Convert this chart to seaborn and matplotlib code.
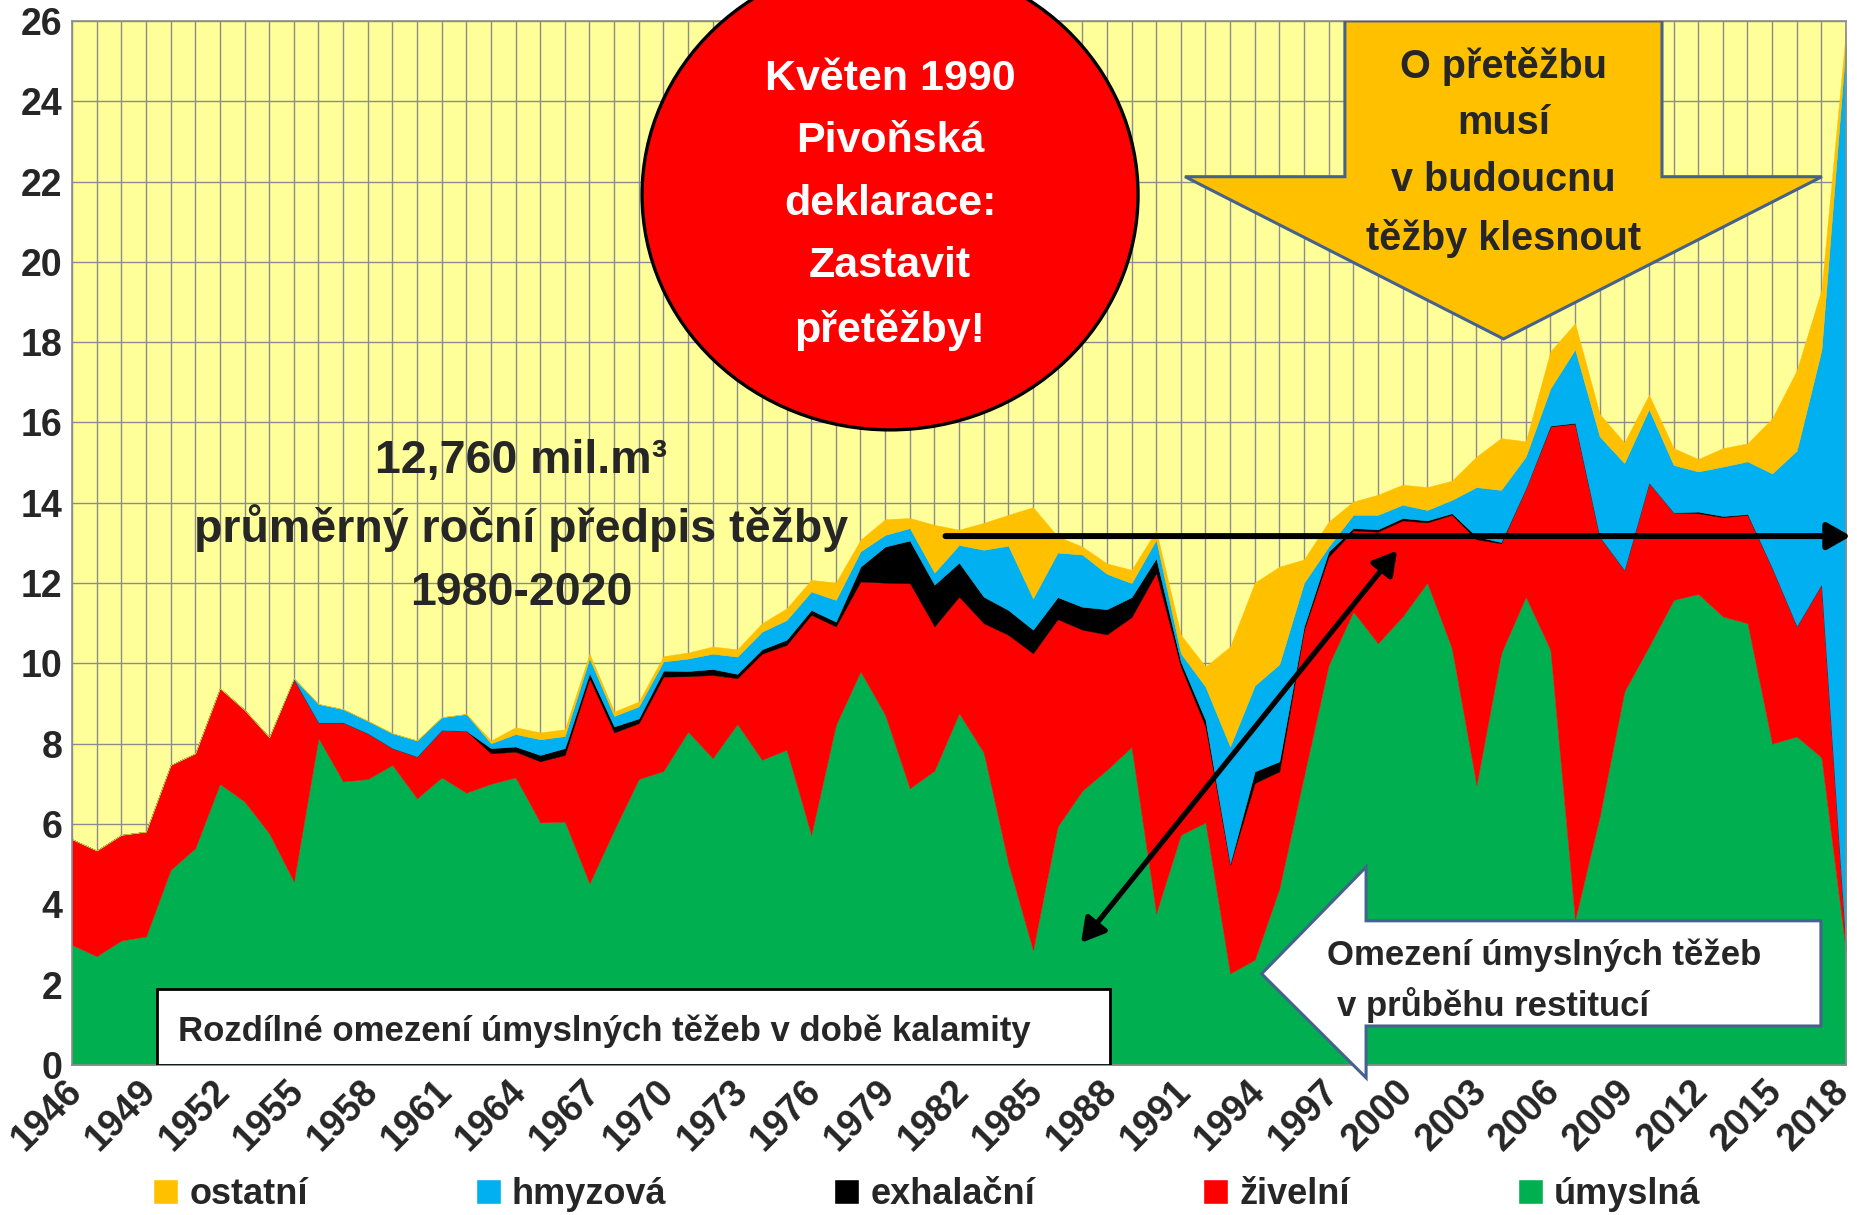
import matplotlib
matplotlib.use('Agg')
import matplotlib.pyplot as plt
import matplotlib.transforms as mtransforms
from matplotlib.patches import Ellipse, Polygon, Rectangle, Patch
import seaborn as sns

# roky 1946-2018, mil. m3
years = list(range(1946, 2019))

umyslna = [2.99, 2.71, 3.10, 3.20, 4.86, 5.40, 7.00, 6.56, 5.77, 4.57,
           8.14, 7.06, 7.12, 7.47, 6.64, 7.16, 6.78, 7.00, 7.16, 6.04,
           6.06, 4.52, 5.85, 7.12, 7.32, 8.30, 7.64, 8.49, 7.60, 7.85,
           5.73, 8.47, 9.80, 8.72, 6.89, 7.33, 8.76, 7.78, 5.02, 2.86,
           5.94, 6.83, 7.35, 7.92, 3.78, 5.73, 6.04, 2.28, 2.62, 4.40,
           7.20, 9.96, 11.29, 10.50, 11.17, 12.01, 10.38, 6.97, 10.25, 11.66,
           10.34, 3.61, 6.19, 9.30, 10.42, 11.58, 11.73, 11.17, 11.00, 8.00,
           8.18, 7.66, 2.80]

zivelni = [2.63, 2.63, 2.63, 2.61, 2.61, 2.36, 2.38, 2.28, 2.39, 5.04,
           0.39, 1.47, 1.14, 0.42, 1.04, 1.18, 1.54, 0.76, 0.64, 1.52,
           1.66, 5.11, 2.43, 1.39, 2.35, 1.38, 2.07, 1.14, 2.64, 2.61,
           5.48, 2.45, 2.24, 3.29, 5.11, 3.59, 2.90, 3.22, 5.69, 7.39,
           5.16, 4.01, 3.37, 3.23, 8.47, 4.19, 2.39, 2.70, 4.40, 2.91,
           3.63, 2.70, 2.02, 2.78, 2.39, 1.50, 3.32, 6.12, 2.74, 2.70,
           5.56, 12.36, 6.97, 3.03, 4.08, 2.18, 2.01, 2.47, 2.70, 4.38,
           2.75, 4.31, 0.10]

exhalacni = [0, 0, 0, 0, 0, 0, 0, 0, 0, 0,
             0, 0, 0, 0, 0, 0, 0, 0.13, 0.13, 0.16,
             0.17, 0.13, 0.15, 0.12, 0.15, 0.13, 0.15, 0.11, 0.11, 0.13,
             0.12, 0.12, 0.37, 0.90, 1.06, 1.04, 0.85, 0.66, 0.62, 0.59,
             0.55, 0.57, 0.63, 0.50, 0.37, 0.12, 0.16, 0.04, 0.29, 0.25,
             0.09, 0.13, 0.06, 0.06, 0.06, 0.05, 0.04, 0.07, 0.03, 0,
             0.02, 0.02, 0, 0, 0, 0, 0.04, 0.03, 0.02, 0,
             0, 0, 0]

hmyzova = [0, 0, 0, 0, 0, 0, 0, 0, 0, 0.02,
           0.46, 0.33, 0.31, 0.37, 0.40, 0.32, 0.42, 0.12, 0.31, 0.39,
           0.30, 0.37, 0.26, 0.30, 0.23, 0.31, 0.38, 0.43, 0.44, 0.49,
           0.46, 0.54, 0.38, 0.29, 0.31, 0.30, 0.44, 1.17, 1.60, 0.78,
           1.11, 1.30, 0.88, 0.35, 0.46, 0.21, 0.83, 2.91, 2.14, 2.42,
           1.09, 0.12, 0.33, 0.36, 0.33, 0.26, 0.33, 1.23, 1.30, 0.79,
           0.93, 1.83, 2.49, 2.66, 1.83, 1.18, 1.00, 1.23, 1.31, 2.35,
           4.37, 5.83, 22.60]

ostatni = [0, 0, 0, 0, 0, 0, 0, 0, 0, 0,
           0, 0, 0, 0, 0, 0, 0, 0.07, 0.17, 0.17,
           0.17, 0.11, 0.11, 0.12, 0.13, 0.15, 0.18, 0.18, 0.21, 0.29,
           0.29, 0.43, 0.29, 0.39, 0.25, 1.19, 0.38, 0.67, 0.77, 2.27,
           0.40, 0.20, 0.26, 0.33, 0.23, 0.46, 0.50, 2.49, 2.56, 2.43,
           0.58, 0.62, 0.33, 0.50, 0.50, 0.57, 0.48, 0.76, 1.29, 0.38,
           0.92, 0.65, 0.56, 0.51, 0.36, 0.42, 0.31, 0.46, 0.45, 1.37,
           2.00, 1.50, 0.30]

labels = ['úmyslná', 'živelní', 'exhalační', 'hmyzová', 'ostatní']
colors = ['#00B050', '#FF0000', '#000000', '#00B0F0', '#FFC000']

sns.set_style('white')
plt.rcParams['font.family'] = ['Liberation Sans', 'DejaVu Sans']
plt.rcParams['font.weight'] = 'bold'

fig = plt.figure(figsize=(18.57, 12.15), dpi=100)
ax = fig.add_axes([0.0388, 0.1235, 0.9553, 0.8593])
ax.set_facecolor('#FFFF99')

ax.stackplot(years, umyslna, zivelni, exhalacni, hmyzova, ostatni,
             colors=colors, labels=labels, edgecolor='face', linewidth=0.3, zorder=2)

ax.set_xlim(1946, 2018)
ax.set_ylim(0, 26)
ax.set_yticks(range(0, 27, 2))
ax.set_xticks(range(1946, 2019, 3))
ax.set_xticks(years, minor=True)
ax.grid(True, which='both', axis='x', color='#8C8C8C', lw=1.0)
ax.grid(True, which='major', axis='y', color='#8C8C8C', lw=1.0)
ax.set_axisbelow(True)
for s in ax.spines.values():
    s.set_color('#8C8C8C')
    s.set_linewidth(1.2)
ax.tick_params(axis='both', which='both', length=0, labelsize=27)
ax.tick_params(axis='y', pad=7)
ax.tick_params(axis='x', pad=6)
shift = mtransforms.ScaledTranslation(-0.08, 0, fig.dpi_scale_trans)
last_shift = mtransforms.ScaledTranslation(-0.07, 0, fig.dpi_scale_trans)
xlabs = ax.get_xticklabels()
for lab in xlabs:
    lab.set_rotation(45)
    lab.set_ha('right')
    lab.set_va('top')
    lab.set_rotation_mode('anchor')
    lab.set_fontweight('bold')
    lab.set_transform(lab.get_transform() + shift)
xlabs[-1].set_transform(xlabs[-1].get_transform() + last_shift)
for lab in ax.get_yticklabels():
    lab.set_fontweight('bold')

# kruh - Pivoňská deklarace
ax.add_patch(Ellipse((1979.2, 21.67), 20.13, 11.71, fc='#FF0000', ec='black',
                     lw=2.4, clip_on=False, zorder=6))
ax.text(1979.2, 21.42, 'Květen 1990\nPivoňská\ndeklarace:\nZastavit\npřetěžby!',
        ha='center', va='center', color='white', fontsize=31, fontweight='bold',
        linespacing=1.72, zorder=7, clip_on=False)

# průměrný předpis
ax.text(1964.24, 13.4, '12,760 mil.m³\nprůměrný roční předpis těžby\n1980-2020',
        ha='center', va='center', fontsize=33.5, fontweight='bold', linespacing=1.55, zorder=7)

# oranžová šipka dolů
ax.add_patch(Polygon([(1997.66, 26), (2010.53, 26), (2010.53, 22.12), (2017.02, 22.12),
                      (2004.1, 18.08), (1991.17, 22.12), (1997.66, 22.12)],
                     closed=True, fc='#FFC000', ec='#44628C', lw=2.2, zorder=6))
ax.text(2004.1, 22.73, 'O přetěžbu\nmusí\nv budoucnu\ntěžby klesnout',
        ha='center', va='center', fontsize=28.5, fontweight='bold', linespacing=1.63, zorder=7)

# bílá šipka doleva
ax.add_patch(Polygon([(1994.28, 2.27), (1998.52, 4.93), (1998.52, 3.59), (2016.98, 3.59),
                      (2016.98, 0.97), (1998.52, 0.97), (1998.52, -0.32)],
                     closed=True, fc='white', ec='#44628C', lw=2.2, zorder=6, clip_on=False))
ax.text(1996.95, 2.49, 'Omezení úmyslných těžeb', ha='left', va='baseline',
        fontsize=25, fontweight='bold', zorder=7)
ax.text(1997.34, 1.23, 'v průběhu restitucí', ha='left', va='baseline',
        fontsize=25, fontweight='bold', zorder=7)

# rámeček dole
ax.add_patch(Rectangle((1949.45, 0), 38.68, 1.89, fc='white', ec='black', lw=2, zorder=6))
ax.text(1950.29, 0.6, 'Rozdílné omezení úmyslných těžeb v době kalamity',
        ha='left', va='baseline', fontsize=25, fontweight='bold', zorder=7)

# šipky
ax.annotate('', xy=(2018.19, 13.17), xytext=(1981.45, 13.17), annotation_clip=False,
            arrowprops=dict(arrowstyle='-|>,head_length=0.7,head_width=0.4', lw=4.3,
                            color='black', shrinkA=0, shrinkB=0, mutation_scale=20),
            zorder=8)
ax.annotate('', xy=(1999.78, 12.81), xytext=(1986.95, 3.04), annotation_clip=False,
            arrowprops=dict(arrowstyle='<|-|>,head_length=0.7,head_width=0.4', lw=3.8,
                            color='black', shrinkA=0, shrinkB=0, mutation_scale=20),
            zorder=8)

handles = [Patch(facecolor=c, label=l) for c, l in zip(colors[::-1], labels[::-1])]
fig.legend(handles=handles, loc='center', bbox_to_anchor=(0.499, 0.017), ncol=5,
           frameon=False, handlelength=0.7, handleheight=0.7,
           handletextpad=0.3, columnspacing=4.65,
           prop={'weight': 'bold', 'size': 26})

fig.savefig('out.png', dpi=100)
